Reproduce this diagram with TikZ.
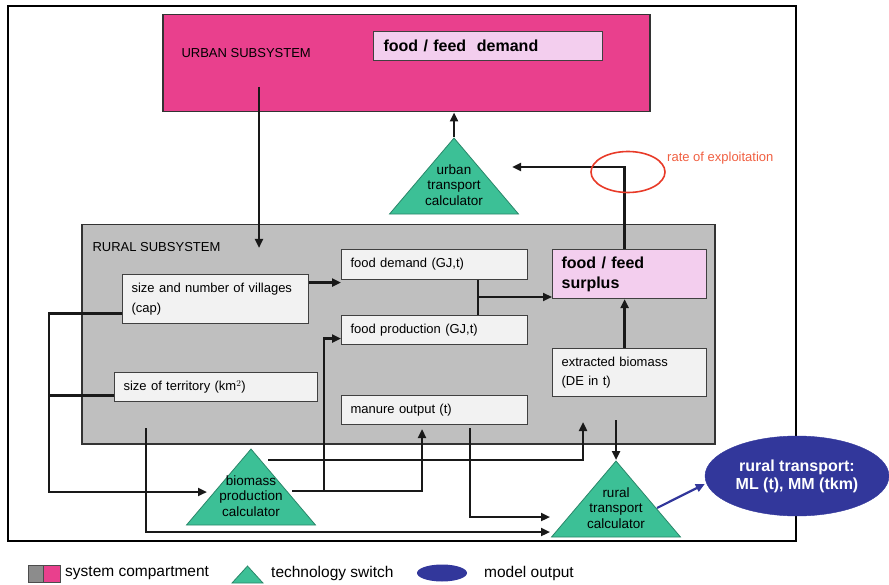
\documentclass[tikz,border=0pt]{standalone}
\usepackage{fontspec}
\setmainfont{Liberation Sans}
\usetikzlibrary{arrows.meta,shapes.geometric,calc}

\definecolor{urbanpink}{RGB}{233,64,141}
\definecolor{lightpink}{RGB}{243,206,238}
\definecolor{ruralgray}{RGB}{191,191,191}
\definecolor{boxwhite}{RGB}{242,242,242}
\definecolor{switchgreen}{RGB}{60,192,150}
\definecolor{outblue}{RGB}{50,55,155}
\definecolor{exred}{RGB}{232,58,40}
\definecolor{exorange}{RGB}{240,95,65}

\tikzset{
  box/.style={draw=black!75, line width=1.2pt, fill=boxwhite, anchor=north west,
    align=left, inner xsep=9pt, inner ysep=0pt,
    font=\fontsize{13}{19.5}\selectfont},
  pinkbox/.style={box, fill=lightpink, font=\bfseries\fontsize{16}{20}\selectfont},
  area/.style={draw=black!80, line width=1.5pt, anchor=north west},
  calctri/.style={isosceles triangle, isosceles triangle stretches,
    shape border rotate=90, minimum width=129pt, minimum height=76pt,
    inner sep=0pt, fill=switchgreen, draw=switchgreen!70!black, line width=0.8pt,
    anchor=apex},
  calctext/.style={align=center, inner sep=0pt, font=\fontsize{13.5}{15.5}\selectfont},
  conn/.style={line width=2.7pt, black!90},
  arr/.style={conn, -{Triangle[length=9pt,width=8pt]}},
  legtext/.style={anchor=west, inner sep=0pt, font=\fontsize{15.5}{18}\selectfont}
}

\begin{document}
\begin{tikzpicture}[x=1pt,y=-1pt]
\useasboundingbox (0,0) rectangle (889,585);

% frame and compartments
\node[draw, line width=2.2pt, minimum width=788pt, minimum height=535pt, anchor=north west] (frame) at (7,5) {};
\node[area, fill=urbanpink, minimum width=487pt, minimum height=97pt] (urban) at (162,14) {};
\node[anchor=west, font=\fontsize{13}{15}\selectfont] (urbantxt) at (178,53) {URBAN SUBSYSTEM};
\node[pinkbox, text width=209pt, minimum height=29pt, inner xsep=10pt] (demand) at (373,31) {food / feed\ \ demand};

\node[area, fill=ruralgray, minimum width=633pt, minimum height=219pt] (rural) at (81,224) {};
\node[anchor=west, font=\fontsize{13}{15}\selectfont] (ruraltxt) at (89,247) {RURAL SUBSYSTEM};

% boxes in the rural subsystem
\node[box, text width=168pt, minimum height=49pt] (villages) at (122,274) {size and number of villages\\(cap)};
\node[box, text width=185pt, minimum height=29pt] (territory) at (114,372) {size of territory (km$^2$)};
\node[box, text width=168pt, minimum height=30pt] (fdem) at (341,249) {food demand (GJ,t)};
\node[box, text width=168pt, minimum height=29pt] (fprod) at (341,315) {food production (GJ,t)};
\node[box, text width=168pt, minimum height=29pt] (manure) at (341,395) {manure output (t)};
\node[pinkbox, text width=136pt, minimum height=49pt] (surplus) at (552,249) {food / feed\\surplus};
\node[box, text width=136pt, minimum height=48pt] (extracted) at (552,348) {extracted biomass\\(DE in t)};

% technology switches
\node[calctri] (utr) at (454,137) {};
\node[calctext] (utrtxt) at ([yshift=-48pt]utr.apex) {urban\\transport\\calculator};
\node[calctri] (bio) at (251,448) {};
\node[calctext] (biotxt) at ([yshift=-48pt]bio.apex) {biomass\\production\\calculator};
\node[calctri] (rtr) at (616,460) {};
\node[calctext] (rtrtxt) at ([yshift=-48pt]rtr.apex) {rural\\transport\\calculator};

% free ends
\coordinate (uout) at (259,87);
\coordinate (rin) at (259,248);
\coordinate (utrin) at (512,167);
\coordinate (jn) at (478,297);
\coordinate (bioin) at (207,492);
\coordinate (terrout) at (146,428);
\coordinate (rtrin2) at (550,532);
\coordinate (bioout) at (292,491);
\coordinate (branch) at (324,491);
\coordinate (manin) at (422,429);
\coordinate (biotop) at (268,460);
\coordinate (extin) at (583,422);
\coordinate (manout) at (470,428);
\coordinate (rtrin1) at (550,517);
\coordinate (extout) at (616,420);
\coordinate (rtrout) at (657,508);

% connectors
\draw[arr] (uout) -- (rin);
\draw[arr] (utr.apex) -- (utr.apex |- urban.south);
\draw[arr] ([xshift=-5pt]surplus.north) |- (utrin);
\draw[exred, line width=1.6pt] (628,172) ellipse (37 and 20.5);
\node[anchor=west, inner sep=0pt, text=exorange, font=\fontsize{13}{15}\selectfont] (rate) at (667,158) {rate of exploitation};

\draw[arr] ([yshift=16.5pt]villages.east) -- ([yshift=16.5pt]villages.east -| fdem.west);
\draw[conn] (jn |- fdem.south) -- (jn |- fprod.north);
\draw[arr] (jn) -- (jn -| surplus.west);
\draw[arr] ([xshift=-5pt]extracted.north) -- ([xshift=-5pt]surplus.south);

\draw[arr] ([yshift=-14.5pt]villages.west) -- ++(-73,0) |- (bioin);
\draw[conn] ([yshift=-8.5pt]territory.west) -- ++(-65,0);
\draw[arr] (terrout) |- (rtrin2);
\draw[arr] (bioout) -| (manin);
\draw[arr] (branch) |- ([yshift=-8.5pt]fprod.west);
\draw[arr] (biotop) -| (extin);
\draw[arr] (manout) |- (rtrin1);
\draw[arr] (extout) -- (rtr.apex);

% model output
\node[ellipse, fill=outblue, draw=outblue, minimum width=184pt, minimum height=80pt,
  align=center, text=white, font=\bfseries\fontsize{16}{18}\selectfont] (rout) at (797,476) {rural transport:\\ML (t), MM (tkm)};
\draw[outblue, line width=2.2pt, -{Triangle[length=9pt,width=8pt]}] (rtrout) -- ([yshift=-8pt]rout.west);

% legend
\node[draw=black!70, fill=gray!90, line width=1pt, minimum width=15pt, minimum height=17pt, anchor=north west] (leggray) at (28,565) {};
\node[draw=black!70, fill=urbanpink, line width=1pt, minimum width=17pt, minimum height=17pt, anchor=north west] (legpink) at (43,565) {};
\node[legtext] (legsys) at (65,573) {system compartment};
\node[calctri, minimum width=31pt, minimum height=17pt] (legtri) at (247.5,565) {};
\node[legtext] (legswitch) at (271,573) {technology switch};
\node[ellipse, fill=outblue, minimum width=50pt, minimum height=17pt] (legell) at (442,573) {};
\node[legtext] (legout) at (484,573) {model output};
\end{tikzpicture}
\end{document}
